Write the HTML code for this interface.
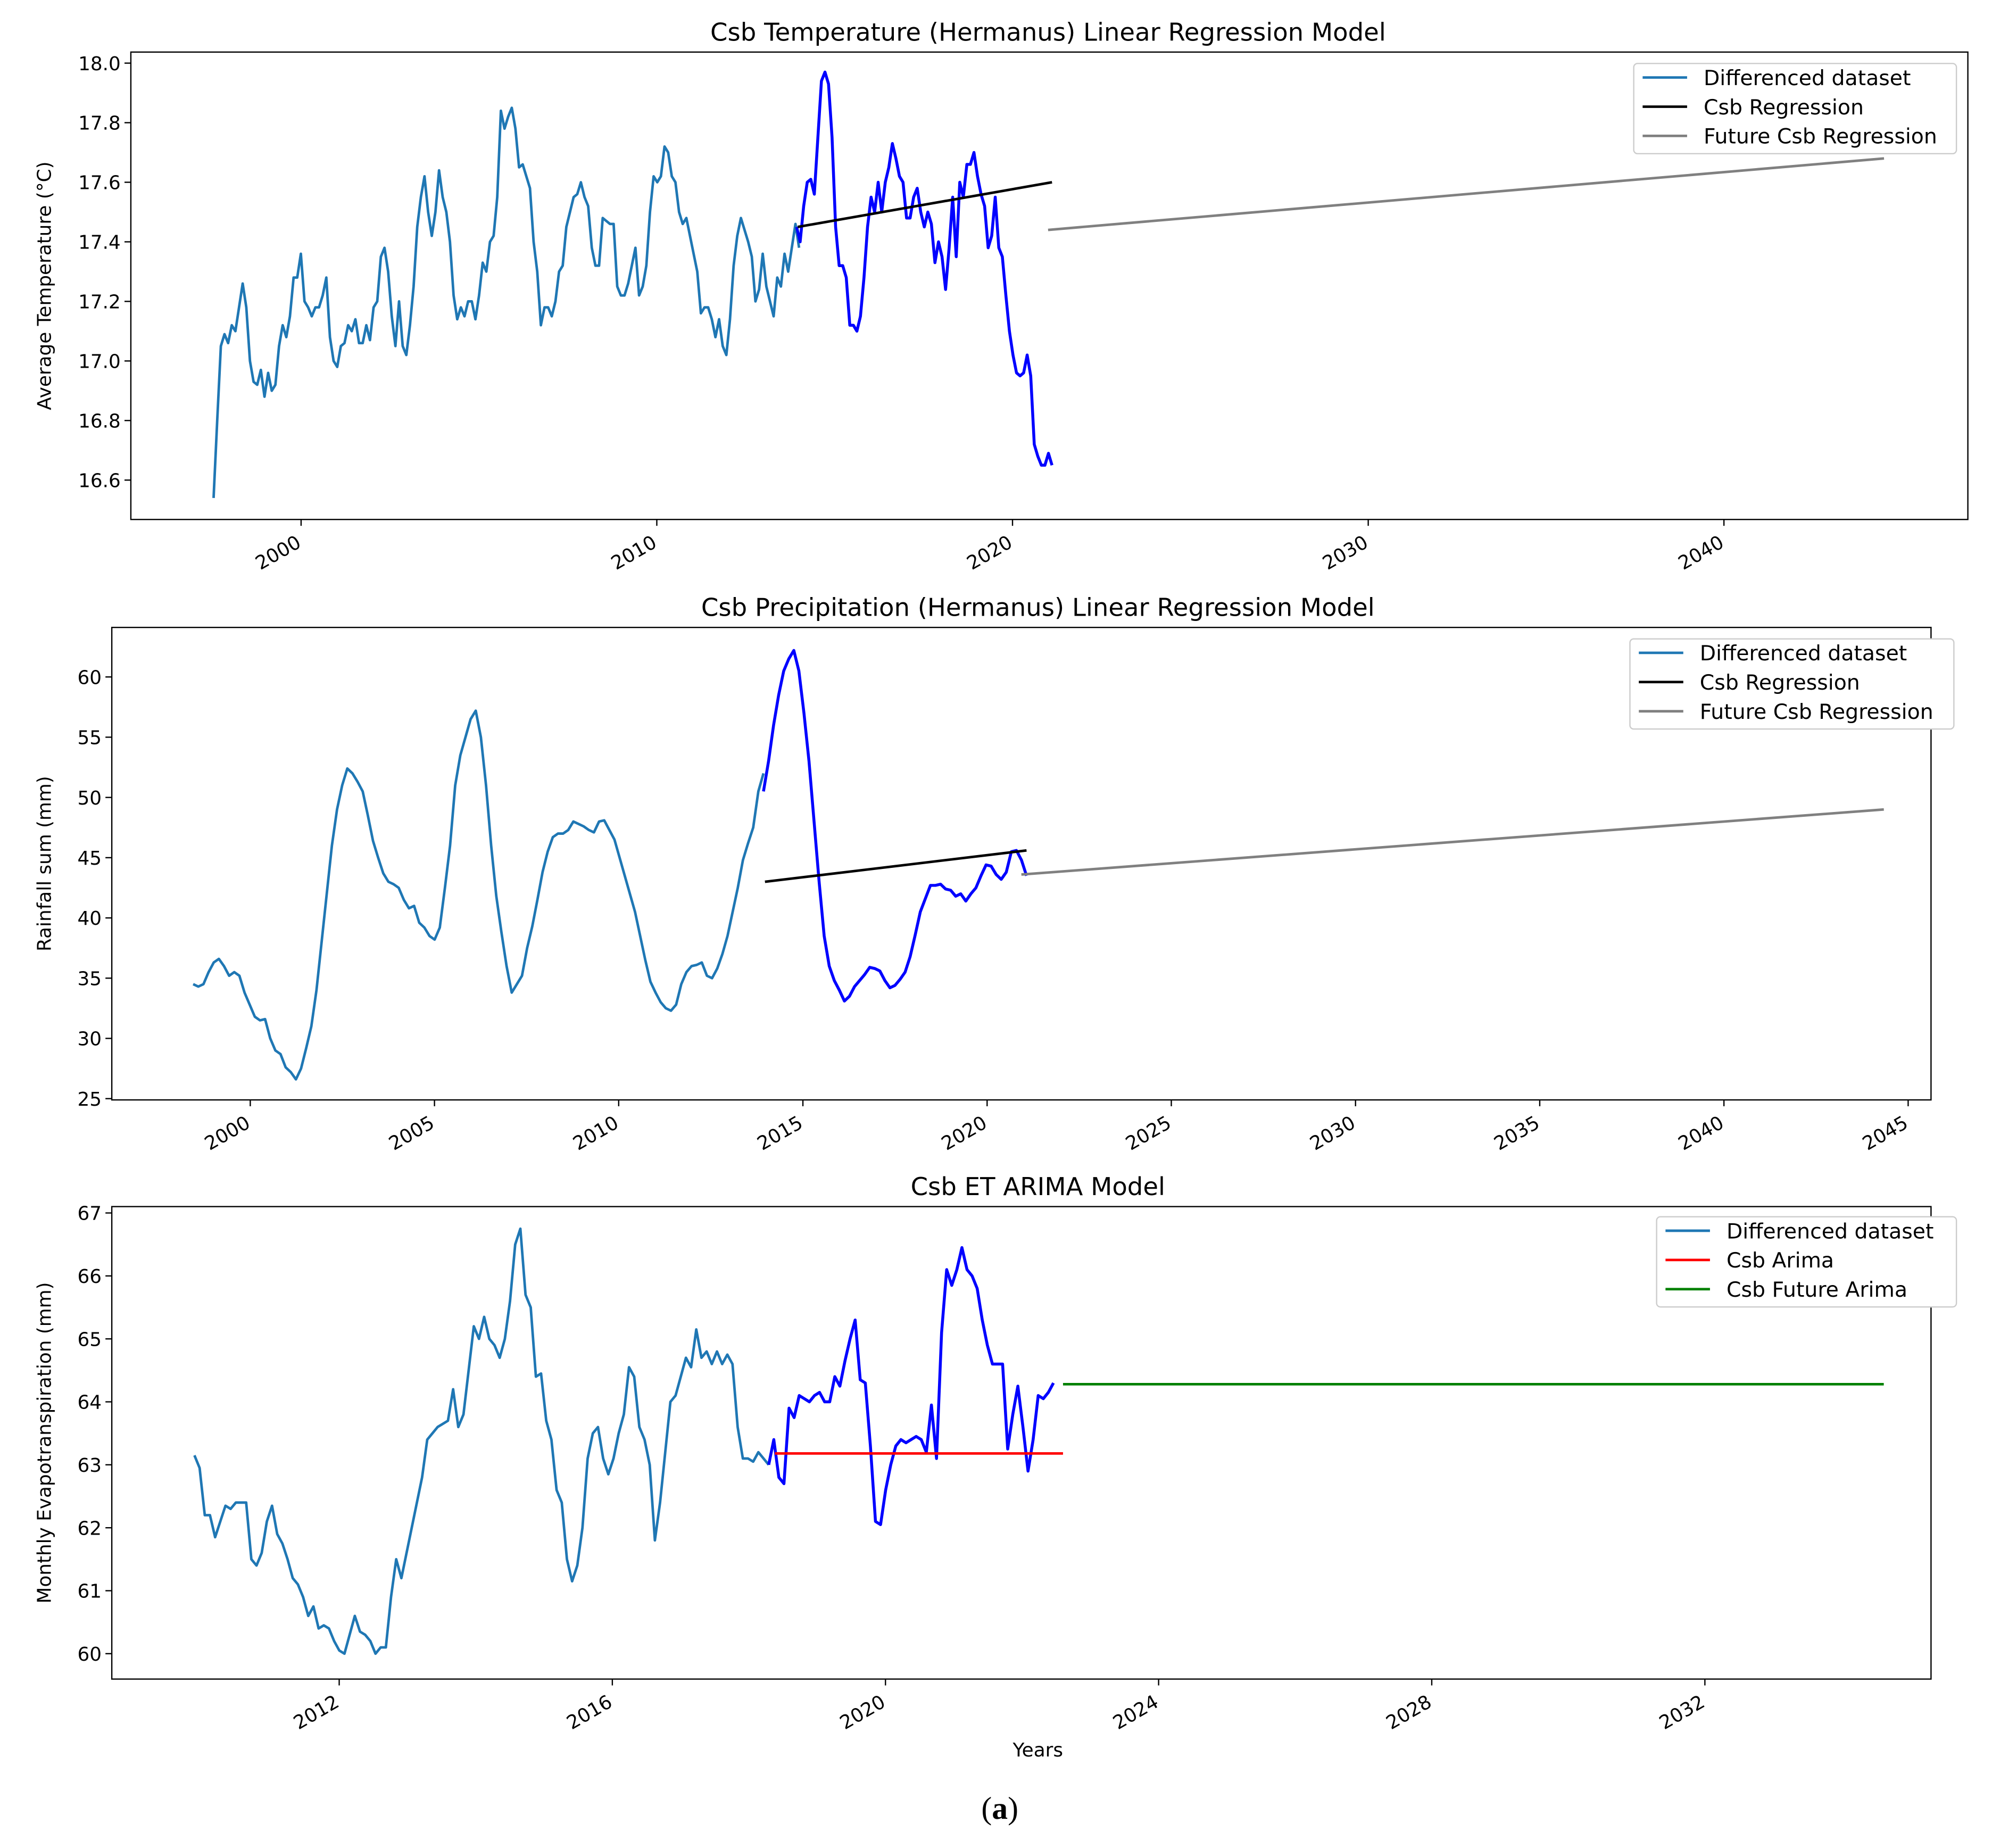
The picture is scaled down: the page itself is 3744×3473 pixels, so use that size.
<!DOCTYPE html>
<html><head><meta charset="utf-8"><style>
html,body{margin:0;padding:0;background:#fff}
svg{display:block}
text{font-family:"DejaVu Sans","Liberation Sans",sans-serif;fill:#000}
</style></head><body>
<svg id="chart" width="3744" height="3473" viewBox="0 0 1568 1455" preserveAspectRatio="none" xmlns="http://www.w3.org/2000/svg">
<text x="787" y="1432" text-anchor="middle" font-size="25" style="font-family:'Liberation Serif',serif">(<tspan font-weight="bold">a</tspan>)</text>
<text x="817" y="1383" text-anchor="middle" font-size="15">Years</text>
</svg>
<script>
// ---- Panel 1: temperature ----
const tempHistStart = 1997.54, tempHistEnd = 2014.0;
const tempHist = [16.54,16.8,17.05,17.09,17.06,17.12,17.1,17.18,17.26,17.18,17.0,16.93,16.92,16.97,16.88,16.96,16.9,16.92,17.05,17.12,17.08,17.15,17.28,17.28,17.36,17.2,17.18,17.15,17.18,17.18,17.22,17.28,17.08,17.0,16.98,17.05,17.06,17.12,17.1,17.14,17.06,17.06,17.12,17.07,17.18,17.2,17.35,17.38,17.3,17.15,17.05,17.2,17.05,17.02,17.12,17.25,17.45,17.55,17.62,17.5,17.42,17.5,17.64,17.55,17.5,17.4,17.22,17.14,17.18,17.15,17.2,17.2,17.14,17.22,17.33,17.3,17.4,17.42,17.55,17.84,17.78,17.82,17.85,17.78,17.65,17.66,17.62,17.58,17.4,17.3,17.12,17.18,17.18,17.15,17.2,17.3,17.32,17.45,17.5,17.55,17.56,17.6,17.55,17.52,17.38,17.32,17.32,17.48,17.47,17.46,17.46,17.25,17.22,17.22,17.26,17.32,17.38,17.22,17.25,17.32,17.5,17.62,17.6,17.62,17.72,17.7,17.62,17.6,17.5,17.46,17.48,17.42,17.36,17.3,17.16,17.18,17.18,17.14,17.08,17.14,17.05,17.02,17.14,17.32,17.42,17.48,17.44,17.4,17.35,17.2,17.24,17.36,17.25,17.2,17.15,17.28,17.25,17.36,17.3,17.38,17.46,17.38];
const tempTestStart = 2013.93, tempTestEnd = 2021.11;
const tempTest = [17.45,17.4,17.52,17.6,17.61,17.56,17.75,17.94,17.97,17.93,17.75,17.45,17.32,17.32,17.28,17.12,17.12,17.1,17.15,17.28,17.45,17.55,17.5,17.6,17.5,17.6,17.65,17.73,17.68,17.62,17.6,17.48,17.48,17.55,17.58,17.5,17.45,17.5,17.46,17.33,17.4,17.35,17.24,17.38,17.55,17.35,17.6,17.55,17.66,17.66,17.7,17.62,17.56,17.52,17.38,17.42,17.55,17.38,17.35,17.22,17.1,17.02,16.96,16.95,16.96,17.02,16.95,16.72,16.68,16.65,16.65,16.69,16.65];
const tempReg = [[2013.96,17.45],[2021.11,17.6]];
const tempFuture = [[2021.0,17.44],[2044.5,17.68]];
const tempYTicks = [16.6,16.8,17.0,17.2,17.4,17.6,17.8,18.0];
const tempXTicks = [2000,2010,2020,2030,2040];

// ---- Panel 2: precipitation ----
const rainHistStart = 1998.45, rainHistEnd = 2013.93;
const rainHist = [34.5,34.3,34.5,35.5,36.3,36.6,36,35.2,35.5,35.2,33.8,32.8,31.8,31.5,31.6,30,29,28.7,27.6,27.2,26.6,27.5,29.2,31,34,38,42,46,49,51,52.4,52,51.3,50.5,48.5,46.4,45,43.7,43,42.8,42.5,41.5,40.8,41,39.6,39.2,38.5,38.2,39.2,42.5,46,51,53.5,55,56.5,57.2,55,51,46,41.8,38.8,36,33.8,34.5,35.2,37.5,39.3,41.5,43.8,45.5,46.7,47,47,47.3,48,47.8,47.6,47.3,47.1,48,48.1,47.3,46.5,45,43.5,42,40.5,38.5,36.5,34.7,33.8,33,32.5,32.3,32.8,34.5,35.5,36,36.1,36.3,35.2,35,35.8,37,38.5,40.5,42.5,44.8,46.2,47.5,50.5,52];
const rainTestStart = 2013.93, rainTestEnd = 2021.07;
const rainTest = [50.5,53,56,58.5,60.5,61.5,62.2,60.5,57,53,48,43,38.5,36,34.8,34,33.1,33.5,34.3,34.8,35.3,35.9,35.8,35.6,34.8,34.2,34.4,34.9,35.5,36.8,38.6,40.5,41.6,42.7,42.7,42.8,42.4,42.3,41.8,42,41.4,42,42.5,43.5,44.4,44.3,43.6,43.2,43.8,45.5,45.6,44.8,43.5];
const rainReg = [[2013.97,43],[2021.07,45.6]];
const rainFuture = [[2020.93,43.6],[2044.34,49]];
const rainYTicks = [25,30,35,40,45,50,55,60];
const rainXTicks = [2000,2005,2010,2015,2020,2025,2030,2035,2040,2045];

// ---- Panel 3: ET ----
const etHistStart = 2009.88, etHistEnd = 2018.29;
const etHist = [63.15,62.95,62.2,62.2,61.85,62.1,62.35,62.3,62.4,62.4,62.4,61.5,61.4,61.6,62.1,62.35,61.9,61.75,61.5,61.2,61.1,60.9,60.6,60.75,60.4,60.45,60.4,60.2,60.05,60.0,60.3,60.6,60.35,60.3,60.2,60.0,60.1,60.1,60.9,61.5,61.2,61.6,62.0,62.4,62.8,63.4,63.5,63.6,63.65,63.7,64.2,63.6,63.8,64.5,65.2,65.0,65.35,65.0,64.9,64.7,65.0,65.6,66.5,66.75,65.7,65.5,64.4,64.45,63.7,63.4,62.6,62.4,61.5,61.15,61.4,62.0,63.1,63.5,63.6,63.1,62.85,63.1,63.5,63.8,64.55,64.4,63.6,63.4,63.0,61.8,62.4,63.2,64.0,64.1,64.4,64.7,64.55,65.15,64.7,64.8,64.6,64.8,64.6,64.75,64.6,63.6,63.1,63.1,63.05,63.2,63.1,63.0];
const etTestStart = 2018.29, etTestEnd = 2022.46;
const etTest = [63.0,63.4,62.8,62.7,63.9,63.75,64.1,64.05,64.0,64.1,64.15,64.0,64.0,64.4,64.25,64.65,65.0,65.3,64.35,64.3,63.3,62.1,62.05,62.6,63.0,63.3,63.4,63.35,63.4,63.45,63.4,63.2,63.95,63.1,65.1,66.1,65.85,66.1,66.45,66.1,66.0,65.8,65.3,64.9,64.6,64.6,64.6,63.25,63.8,64.25,63.6,62.9,63.4,64.1,64.05,64.15,64.3];
const etArima = [[2018.38,63.18],[2022.6,63.18]];
const etFuture = [[2022.6,64.28],[2034.62,64.28]];
const etYTicks = [60,61,62,63,64,65,66,67];
const etXTicks = [2012,2016,2020,2024,2028,2032];

const NS = "http://www.w3.org/2000/svg";
const svg = document.getElementById('chart');
function mk(tag, attrs, parent){const e=document.createElementNS(NS,tag);for(const k in attrs)e.setAttribute(k,attrs[k]);(parent||svg).appendChild(e);return e;}
function span(start,end,vals){const n=vals.length;return vals.map((v,i)=>[start+i*(end-start)/(n-1),v]);}

function panel(cfg){
  const g = mk('g',{});
  
  
  const xs = x => cfg.px0 + (x-cfg.x0)*cfg.pxPerX;
  const ys = y => cfg.py0 - (y-cfg.y0)*cfg.pyPerY;
  const t = mk('text',{x:cfg.titleX,y:cfg.top-9,'text-anchor':'middle','font-size':19.5},g);
  t.textContent = cfg.title;
  
  
  cfg.yTicks.forEach(v=>{
    const y=ys(v);
    mk('line',{x1:cfg.left-5,x2:cfg.left,y1:y,y2:y,stroke:'#000','stroke-width':1},g);
    const tx=mk('text',{x:cfg.left-8,y:y+5.5,'text-anchor':'end','font-size':15},g);
    tx.textContent = cfg.yFmt(v);
    
    
  });
  cfg.xTicks.forEach(v=>{
    const x=xs(v);
    mk('line',{x1:x,x2:x,y1:cfg.bottom,y2:cfg.bottom+5,stroke:'#000','stroke-width':1},g);
    const ax=x+1, ay=cfg.bottom+21;
    const tx=mk('text',{x:ax,y:ay,'text-anchor':'end','font-size':15,transform:`rotate(-30 ${ax} ${ay})`},g);
    tx.textContent = v;
    
    
  });
  const yl=mk('text',{x:0,y:0,'text-anchor':'middle','font-size':15,transform:`translate(${cfg.ylabX} ${(cfg.top+cfg.bottom)/2}) rotate(-90)`},g);
  yl.textContent = cfg.ylabel;
  
  
  const line=(pts,color,w,name)=>{
    const p=mk('polyline',{points:pts.map(d=>xs(d[0]).toFixed(2)+','+ys(d[1]).toFixed(2)).join(' '),fill:'none',stroke:color,'stroke-width':w,'stroke-linejoin':'round'},g);
    
    
  };
  cfg.series.forEach(s=>line(s.pts,s.color,s.w,s.name));
  const fr=mk('rect',{x:cfg.left,y:cfg.top,width:cfg.right-cfg.left,height:cfg.bottom-cfg.top,fill:'none',stroke:'#000','stroke-width':1},g);
  
  
  const L=cfg.legend;
  const lg=mk('g',{},g);
  
  
  mk('rect',{x:L.x,y:L.y,width:L.w,height:71,rx:3,fill:'#fff',stroke:'#ccc','stroke-width':1},lg);
  L.items.forEach((it,i)=>{
    const y=L.y+11+i*23;
    mk('line',{x1:L.x+7,x2:L.x+42,y1:y,y2:y,stroke:it.color,'stroke-width':2},lg);
    const tx=mk('text',{x:L.x+55,y:y+6,'font-size':16.5},lg);
    tx.textContent = it.label;
    
    
  });
}

const LB='#1f77b4', B='#0000ff';
panel({id:'temperature',title:'Csb Temperature (Hermanus) Linear Regression Model',titleX:825,
  left:103,right:1549,top:41,bottom:409,px0:237,x0:2000,pxPerX:28,py0:378,y0:16.6,pyPerY:234.5,
  yTicks:tempYTicks,xTicks:tempXTicks,yFmt:v=>v.toFixed(1),ylabel:'Average Temperature (°C)',ylabX:40,
  series:[{pts:span(tempHistStart,tempHistEnd,tempHist),color:LB,w:2,name:'temp-differenced-line'},
          {pts:span(tempTestStart,tempTestEnd,tempTest),color:B,w:2.3,name:'temp-test-line'},
          {pts:tempReg,color:'#000',w:2,name:'temp-regression-line'},
          {pts:tempFuture,color:'#808080',w:2,name:'temp-future-regression-line'}],
  legend:{x:1286,y:50,w:254,items:[{color:LB,label:'Differenced dataset'},{color:'#000',label:'Csb Regression'},{color:'#808080',label:'Future Csb Regression'}]}});
panel({id:'precipitation',title:'Csb Precipitation (Hermanus) Linear Regression Model',titleX:817,
  left:88,right:1520,top:494,bottom:866,px0:197,x0:2000,pxPerX:29,py0:865,y0:25,pyPerY:9.486,
  yTicks:rainYTicks,xTicks:rainXTicks,yFmt:v=>String(v),ylabel:'Rainfall sum (mm)',ylabX:40,
  series:[{pts:span(rainHistStart,rainHistEnd,rainHist),color:LB,w:2,name:'rain-differenced-line'},
          {pts:span(rainTestStart,rainTestEnd,rainTest),color:B,w:2.3,name:'rain-test-line'},
          {pts:rainReg,color:'#000',w:2,name:'rain-regression-line'},
          {pts:rainFuture,color:'#808080',w:2,name:'rain-future-regression-line'}],
  legend:{x:1283,y:503,w:255,items:[{color:LB,label:'Differenced dataset'},{color:'#000',label:'Csb Regression'},{color:'#808080',label:'Future Csb Regression'}]}});
panel({id:'evapotranspiration',title:'Csb ET ARIMA Model',titleX:817,
  left:88,right:1520,top:950,bottom:1322,px0:267,x0:2012,pxPerX:53.75,py0:1302,y0:60,pyPerY:49.57,
  yTicks:etYTicks,xTicks:etXTicks,yFmt:v=>String(v),ylabel:'Monthly Evapotranspiration (mm)',ylabX:40,
  series:[{pts:span(etHistStart,etHistEnd,etHist),color:LB,w:2,name:'et-differenced-line'},
          {pts:span(etTestStart,etTestEnd,etTest),color:B,w:2.3,name:'et-test-line'},
          {pts:etArima,color:'#ff0000',w:2,name:'et-arima-line'},
          {pts:etFuture,color:'#008000',w:2,name:'et-future-arima-line'}],
  legend:{x:1304,y:958,w:236,items:[{color:LB,label:'Differenced dataset'},{color:'#ff0000',label:'Csb Arima'},{color:'#008000',label:'Csb Future Arima'}]}});
</script>
</body></html>
